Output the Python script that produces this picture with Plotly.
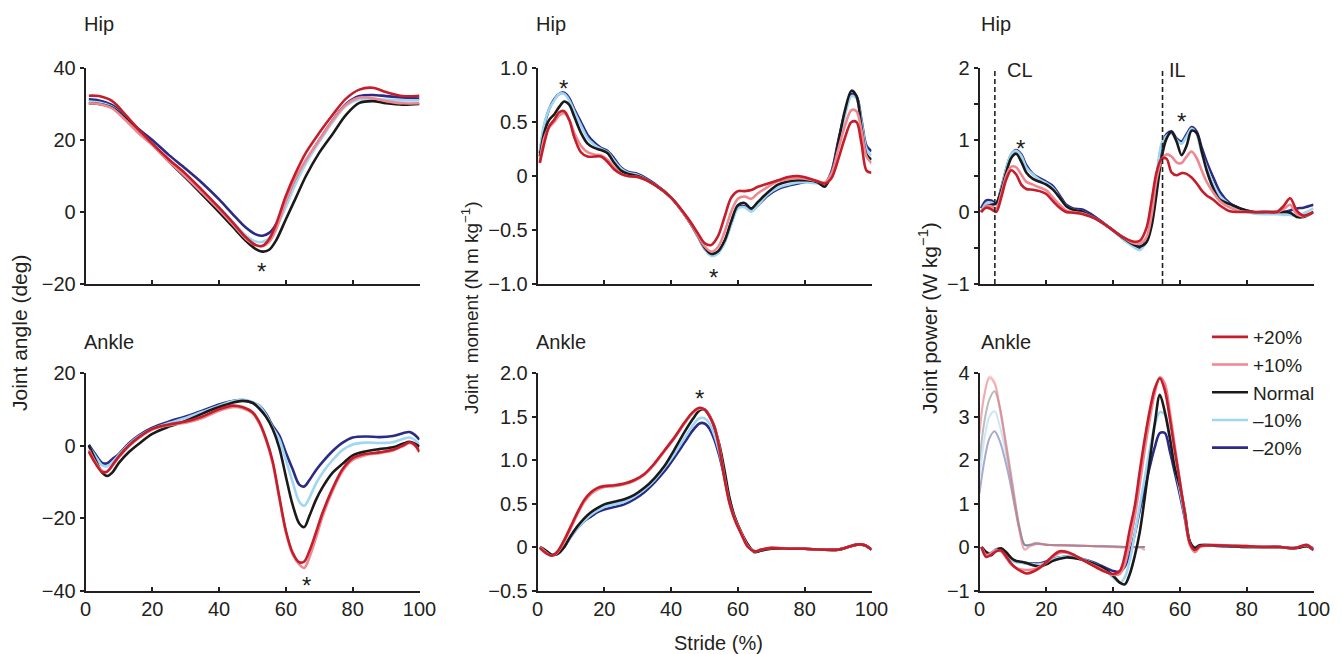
import plotly.graph_objects as go
from plotly.subplots import make_subplots

# ---------------- data ----------------
conditions = ["–20%", "–10%", "Normal", "+10%", "+20%"]
colors = ["#2B2B85", "#9FD6F2", "#1A1A1A", "#EF8790", "#C41E2A"]
ghost_colors = ["#2B2B85", "#7FC4EA", "#555555", "#EF8790", "#E0707A"]

# Hip angle (deg)
hip_ang_x = [1, 4, 8, 12, 16, 20, 25, 30, 35, 40, 44, 48, 51, 53, 55, 57, 60, 63, 66, 70, 74, 78, 82, 86, 90, 95, 100]
hip_ang = {
    "+20%": [32.3, 32.2, 30.8, 27.0, 22.8, 19.0, 14.6, 10.6, 6.0, 1.2, -2.8, -7.0, -9.2, -9.4, -7.5, -3.5, 4.5, 11.0, 16.5, 22.0, 27.0, 31.5, 34.0, 34.5, 33.3, 32.2, 32.3],
    "+10%": [30.2, 30.0, 28.8, 25.5, 21.8, 18.6, 14.0, 9.8, 5.3, 0.7, -3.3, -7.4, -9.2, -9.5, -8.3, -5.0, 3.0, 9.5, 14.5, 20.0, 25.5, 29.8, 31.8, 31.6, 30.8, 30.2, 30.2],
    "Normal": [30.2, 30.0, 29.0, 26.0, 22.2, 18.8, 14.0, 9.5, 4.8, 0.0, -4.0, -8.0, -10.3, -11.0, -10.5, -8.0, -2.0, 4.0, 10.0, 16.5, 21.7, 27.0, 30.3, 30.8, 30.2, 29.8, 30.0],
    "–10%": [30.6, 30.4, 29.2, 26.0, 22.2, 18.8, 14.2, 10.0, 5.7, 1.2, -2.6, -6.5, -8.2, -8.3, -7.2, -4.5, 1.5, 8.0, 13.5, 19.5, 25.0, 29.5, 31.3, 31.4, 31.2, 31.0, 31.0],
    "–20%": [31.3, 31.0, 29.7, 26.5, 23.0, 20.0, 15.8, 12.0, 8.0, 3.5, -0.5, -4.3, -6.2, -6.6, -5.8, -3.5, 2.5, 8.5, 14.0, 20.0, 25.5, 30.0, 32.2, 32.5, 32.2, 31.8, 31.5],
}

# Hip moment (N m kg-1)
hip_mom_x = [0.7, 2, 3.5, 5, 6.5, 8, 9.5, 11, 13, 15, 17, 19, 21, 23, 25, 27, 30, 35, 40, 45, 48, 50, 52, 54, 56, 58, 60, 62, 64, 66, 69, 72, 75, 78, 81, 84, 86, 88, 90, 92, 94, 95.5, 97, 98.5, 100]
hip_mom = {
    "+20%": [0.12, 0.30, 0.46, 0.52, 0.59, 0.60, 0.52, 0.36, 0.22, 0.18, 0.18, 0.18, 0.13, 0.06, 0.02, 0.0, -0.01, -0.08, -0.20, -0.39, -0.53, -0.62, -0.64, -0.56, -0.38, -0.20, -0.14, -0.14, -0.13, -0.10, -0.07, -0.04, -0.01, 0.0, -0.02, -0.05, -0.07, -0.02, 0.15, 0.35, 0.50, 0.50, 0.30, 0.05, 0.03],
    "+10%": [0.13, 0.35, 0.45, 0.50, 0.56, 0.58, 0.52, 0.40, 0.28, 0.22, 0.20, 0.19, 0.15, 0.08, 0.02, 0.0, -0.01, -0.08, -0.20, -0.40, -0.55, -0.65, -0.70, -0.66, -0.52, -0.33, -0.21, -0.19, -0.21, -0.16, -0.10, -0.05, -0.03, -0.02, -0.03, -0.05, -0.06, 0.02, 0.24, 0.46, 0.61, 0.60, 0.42, 0.18, 0.12],
    "Normal": [0.18, 0.40, 0.52, 0.57, 0.64, 0.69, 0.66, 0.55, 0.40, 0.30, 0.26, 0.24, 0.21, 0.12, 0.05, 0.02, 0.0, -0.08, -0.20, -0.40, -0.55, -0.66, -0.72, -0.70, -0.60, -0.42, -0.27, -0.25, -0.30, -0.24, -0.15, -0.08, -0.05, -0.04, -0.04, -0.06, -0.10, 0.02, 0.30, 0.60, 0.79, 0.74, 0.45, 0.20, 0.15],
    "–10%": [0.23, 0.48, 0.62, 0.70, 0.76, 0.76, 0.70, 0.60, 0.47, 0.35, 0.29, 0.25, 0.22, 0.14, 0.07, 0.03, 0.01, -0.08, -0.20, -0.40, -0.56, -0.67, -0.74, -0.72, -0.62, -0.45, -0.30, -0.29, -0.33, -0.27, -0.17, -0.11, -0.08, -0.06, -0.06, -0.07, -0.08, 0.02, 0.28, 0.55, 0.74, 0.72, 0.50, 0.25, 0.19],
    "–20%": [0.21, 0.46, 0.62, 0.71, 0.76, 0.77, 0.72, 0.62, 0.50, 0.38, 0.31, 0.26, 0.23, 0.16, 0.08, 0.04, 0.02, -0.07, -0.20, -0.40, -0.56, -0.67, -0.73, -0.71, -0.61, -0.44, -0.29, -0.28, -0.32, -0.27, -0.18, -0.12, -0.09, -0.07, -0.05, -0.06, -0.07, 0.04, 0.32, 0.58, 0.76, 0.74, 0.52, 0.28, 0.23],
}

# Hip power (W kg-1)
hip_pow_x = [0.5, 2, 3.5, 5, 6.5, 8, 9.5, 11, 12.5, 14, 16, 18, 20, 22, 24, 26, 28, 31, 35, 39, 43, 46, 48, 50, 51.5, 53, 54.5, 56, 57.5, 59, 60.5, 62, 63.5, 65, 66.5, 68, 70, 72, 75, 78, 82, 86, 89, 91, 93, 95, 97, 100]
hip_pow = {
    "+20%": [0.0, 0.06, 0.04, 0.0, 0.20, 0.45, 0.58, 0.52, 0.38, 0.32, 0.31, 0.29, 0.25, 0.15, 0.06, 0.0, -0.01, -0.03, -0.10, -0.22, -0.35, -0.41, -0.40, -0.22, 0.15, 0.55, 0.74, 0.74, 0.55, 0.51, 0.54, 0.53, 0.48, 0.40, 0.30, 0.23, 0.17, 0.09, 0.01, 0.0, 0.0, 0.0, 0.0, 0.08, 0.19, 0.02, -0.05, 0.0],
    "+10%": [0.0, 0.08, 0.08, 0.05, 0.25, 0.50, 0.63, 0.62, 0.52, 0.42, 0.38, 0.34, 0.30, 0.20, 0.10, 0.02, 0.0, -0.02, -0.10, -0.22, -0.35, -0.43, -0.44, -0.35, -0.05, 0.45, 0.72, 0.80, 0.77, 0.69, 0.68, 0.77, 0.84, 0.75, 0.58, 0.42, 0.27, 0.15, 0.06, 0.01, 0.0, 0.0, 0.0, 0.04, 0.10, -0.03, -0.06, 0.0],
    "Normal": [0.0, 0.08, 0.10, 0.12, 0.30, 0.55, 0.75, 0.81, 0.70, 0.55, 0.46, 0.42, 0.38, 0.31, 0.20, 0.08, 0.03, 0.0, -0.10, -0.22, -0.36, -0.45, -0.48, -0.42, -0.20, 0.25, 0.75, 1.02, 1.11, 0.98, 0.79, 0.92, 1.13, 1.10, 0.85, 0.58, 0.33, 0.17, 0.11, 0.05, 0.0, 0.0, 0.0, 0.0, -0.01, -0.07, -0.07, 0.0],
    "–10%": [0.0, 0.12, 0.13, 0.10, 0.32, 0.60, 0.80, 0.85, 0.78, 0.62, 0.52, 0.45, 0.40, 0.33, 0.20, 0.08, 0.03, 0.0, -0.10, -0.23, -0.38, -0.48, -0.53, -0.40, -0.05, 0.50, 0.95, 1.06, 1.09, 1.00, 0.95, 1.05, 1.16, 1.08, 0.82, 0.62, 0.38, 0.22, 0.10, 0.03, -0.02, -0.03, -0.03, -0.04, -0.04, -0.06, -0.02, 0.05],
    "–20%": [0.05, 0.16, 0.16, 0.12, 0.33, 0.60, 0.80, 0.86, 0.80, 0.65, 0.53, 0.47, 0.42, 0.36, 0.23, 0.10, 0.05, 0.03, -0.08, -0.22, -0.37, -0.46, -0.50, -0.38, -0.08, 0.45, 0.92, 1.08, 1.12, 1.02, 0.98, 1.08, 1.18, 1.12, 0.90, 0.70, 0.48, 0.28, 0.12, 0.05, 0.0, 0.0, 0.0, 0.0, 0.02, 0.05, 0.06, 0.10],
}

# Ankle angle (deg)
ank_ang_x = [1, 3, 5, 6.5, 8, 10, 13, 16, 20, 25, 30, 35, 40, 44, 47, 50, 52, 54, 56, 58, 60, 62, 64, 65.5, 67, 69, 71, 74, 77, 80, 84, 88, 92, 95, 97, 98.5, 100]
ank_ang = {
    "+20%": [-1.7, -5.0, -7.3, -7.2, -5.5, -3.0, 0.0, 2.3, 4.6, 5.8, 6.6, 8.0, 10.0, 11.0, 10.6, 9.2, 6.5, 2.0, -4.2, -14.0, -23.5, -29.5, -32.2, -32.0, -29.2, -24.0, -18.5, -11.8, -6.5, -3.5, -2.3, -1.9, -1.2, 0.0, 0.9, 0.3, -1.7],
    "+10%": [-1.2, -4.6, -7.0, -7.2, -5.6, -3.2, -0.2, 2.1, 4.4, 5.6, 6.3, 7.6, 9.6, 10.6, 10.3, 8.9, 6.2, 1.6, -4.8, -14.5, -24.0, -30.0, -32.8, -33.8, -31.0, -25.5, -19.5, -12.5, -7.0, -4.0, -2.6, -2.1, -1.4, -0.2, 0.7, 0.1, -1.9],
    "Normal": [0.0, -4.0, -7.5, -8.4, -7.5, -4.8, -1.8, 0.5, 3.2, 5.2, 6.8, 8.8, 10.6, 11.8, 12.3, 11.8, 10.2, 8.0, 4.6, -0.6, -8.6, -16.3, -21.5, -22.5, -19.5, -15.0, -11.5, -7.5, -5.0, -2.7, -1.6, -1.0, -0.5, 0.5, 1.0, 0.6, -0.3],
    "–10%": [-0.3, -3.0, -5.5, -5.7, -4.6, -2.6, 0.3, 2.5, 4.6, 6.2, 7.6, 9.3, 11.0, 12.2, 12.7, 12.0, 11.0, 8.5, 5.0, 1.8, -4.0, -10.0, -15.5, -16.6, -14.5, -10.5, -7.5, -4.0, -1.2, 0.3, 0.8, 0.7, 0.9, 1.8, 2.2, 1.6, 0.2],
    "–20%": [0.2, -2.5, -4.8, -4.9, -3.8, -2.3, 0.6, 2.8, 4.9, 6.6, 8.0, 9.6, 11.3, 12.3, 12.5, 11.8, 11.0, 8.8, 5.5, 2.8, -2.0, -6.5, -10.8, -11.3, -9.6, -6.8, -4.5, -1.5, 0.8, 2.2, 2.5, 2.3, 2.6, 3.4, 3.7, 3.0, 1.6],
}

# Ankle moment (N m kg-1)
ank_mom_x = [0.7, 2.5, 4.2, 6, 8, 10, 12, 14, 16, 18, 20, 23, 26, 29, 32, 35, 38, 41, 44, 46.5, 48.5, 50, 51.5, 53, 54.5, 56, 57.5, 59, 61, 63, 65, 67, 70, 75, 80, 85, 90, 93, 96, 98, 100]
ank_mom = {
    "+20%": [-0.01, -0.07, -0.10, -0.05, 0.08, 0.24, 0.40, 0.54, 0.63, 0.68, 0.70, 0.71, 0.73, 0.77, 0.84, 0.96, 1.11, 1.26, 1.43, 1.55, 1.60, 1.58, 1.50, 1.38, 1.12, 0.78, 0.50, 0.32, 0.15, 0.0, -0.05, -0.03, -0.01, -0.02, -0.02, -0.03, -0.03, 0.0, 0.03, 0.02, -0.03],
    "+10%": [0.0, -0.06, -0.10, -0.06, 0.06, 0.22, 0.38, 0.52, 0.61, 0.66, 0.69, 0.70, 0.72, 0.76, 0.83, 0.95, 1.10, 1.25, 1.42, 1.54, 1.59, 1.58, 1.51, 1.39, 1.14, 0.80, 0.51, 0.33, 0.16, 0.01, -0.05, -0.03, -0.01, -0.02, -0.02, -0.03, -0.03, 0.0, 0.03, 0.02, -0.03],
    "Normal": [0.0, -0.04, -0.09, -0.08, 0.0, 0.13, 0.24, 0.33, 0.40, 0.45, 0.49, 0.52, 0.55, 0.60, 0.68, 0.79, 0.93, 1.12, 1.32, 1.47, 1.57, 1.58, 1.51, 1.37, 1.17, 0.88, 0.56, 0.35, 0.17, 0.03, -0.06, -0.04, -0.02, -0.02, -0.02, -0.03, -0.03, 0.0, 0.03, 0.02, -0.03],
    "–10%": [0.0, -0.05, -0.09, -0.08, 0.0, 0.12, 0.22, 0.30, 0.37, 0.42, 0.46, 0.49, 0.52, 0.58, 0.66, 0.77, 0.91, 1.07, 1.25, 1.40, 1.48, 1.48, 1.42, 1.28, 1.08, 0.82, 0.54, 0.34, 0.16, 0.02, -0.05, -0.04, -0.02, -0.02, -0.02, -0.03, -0.03, 0.0, 0.03, 0.02, -0.03],
    "–20%": [0.0, -0.05, -0.09, -0.08, 0.0, 0.12, 0.22, 0.30, 0.35, 0.40, 0.43, 0.46, 0.49, 0.55, 0.63, 0.74, 0.87, 1.03, 1.20, 1.34, 1.42, 1.42, 1.36, 1.23, 1.04, 0.80, 0.55, 0.34, 0.16, 0.02, -0.05, -0.04, -0.02, -0.02, -0.02, -0.03, -0.03, 0.0, 0.03, 0.02, -0.03],
}

# Ankle power (W kg-1)
ank_pow_x = [0.6, 2, 3.5, 5, 6.5, 8, 9.5, 11, 12.5, 14, 16, 18, 20, 22, 24, 26, 28, 31, 34, 37, 40, 42, 43.5, 45, 46.5, 48, 49.5, 51, 52.5, 54, 55.5, 57, 58.5, 60, 61.5, 63, 64.5, 66, 70, 75, 80, 85, 90, 94, 96, 98, 100]
ank_pow = {
    "+20%": [0.0, -0.23, -0.18, -0.10, -0.08, -0.22, -0.38, -0.49, -0.56, -0.61, -0.57, -0.48, -0.35, -0.20, -0.10, -0.11, -0.17, -0.30, -0.43, -0.55, -0.62, -0.55, -0.20, 0.40, 0.95, 1.75, 2.50, 3.15, 3.65, 3.88, 3.60, 2.95, 2.20, 1.50, 0.75, 0.08, -0.07, 0.02, 0.04, 0.03, 0.02, 0.0, 0.0, -0.03, 0.01, 0.05, -0.07],
    "+10%": [0.0, -0.18, -0.15, -0.08, -0.10, -0.25, -0.40, -0.48, -0.52, -0.53, -0.52, -0.46, -0.36, -0.23, -0.13, -0.13, -0.18, -0.30, -0.42, -0.53, -0.64, -0.62, -0.40, 0.10, 0.70, 1.45, 2.25, 2.95, 3.55, 3.90, 3.75, 3.10, 2.30, 1.50, 0.75, 0.05, -0.12, 0.0, 0.05, 0.03, 0.02, 0.0, 0.0, -0.03, 0.01, 0.04, -0.06],
    "Normal": [0.0, -0.12, -0.19, -0.08, -0.03, -0.12, -0.25, -0.32, -0.34, -0.37, -0.42, -0.45, -0.40, -0.32, -0.27, -0.24, -0.25, -0.30, -0.38, -0.48, -0.66, -0.82, -0.86, -0.62, -0.20, 0.35, 1.15, 2.00, 2.85, 3.50, 3.10, 2.50, 1.80, 1.39, 0.80, 0.12, -0.02, 0.04, 0.04, 0.02, 0.0, 0.0, 0.0, -0.03, -0.01, 0.02, -0.07],
    "–10%": [0.0, -0.15, -0.15, -0.06, -0.08, -0.20, -0.30, -0.35, -0.36, -0.38, -0.40, -0.40, -0.36, -0.28, -0.24, -0.22, -0.23, -0.28, -0.37, -0.50, -0.70, -0.82, -0.70, -0.30, 0.30, 0.95, 1.60, 2.25, 2.80, 3.10, 3.05, 2.50, 1.85, 1.30, 0.70, 0.10, 0.0, 0.05, 0.04, 0.02, 0.0, 0.0, 0.0, -0.02, 0.0, 0.02, -0.03],
    "–20%": [0.0, -0.12, -0.14, -0.05, -0.05, -0.18, -0.28, -0.33, -0.35, -0.37, -0.38, -0.38, -0.33, -0.27, -0.24, -0.22, -0.24, -0.28, -0.35, -0.45, -0.55, -0.57, -0.45, -0.15, 0.30, 0.85, 1.35, 1.85, 2.30, 2.62, 2.62, 2.20, 1.70, 1.20, 0.65, 0.10, -0.02, 0.04, 0.03, 0.01, 0.0, 0.0, 0.0, -0.02, 0.0, 0.02, -0.03],
}

# Faded early-stride ankle power traces (drawn without legend)
ghost_x = [0, 1.5, 3, 4.5, 6, 7.5, 9, 10.5, 12, 13.5, 15, 17, 20, 25, 30, 35, 40, 45, 48, 49.5]
ghost_pow = {
    "+20%": [2.6, 3.5, 3.88, 3.75, 3.2, 2.5, 1.75, 1.0, 0.35, -0.05, 0.02, 0.07, 0.05, 0.04, 0.03, 0.02, 0.0, -0.02, -0.02, -0.07],
    "+10%": [2.62, 3.55, 3.92, 3.8, 3.25, 2.55, 1.8, 1.05, 0.38, -0.07, 0.0, 0.07, 0.05, 0.04, 0.03, 0.02, 0.0, -0.02, 0.0, -0.07],
    "Normal": [2.0, 2.9, 3.4, 3.58, 3.25, 2.6, 1.9, 1.15, 0.45, 0.05, 0.05, 0.1, 0.05, 0.04, 0.03, 0.02, 0.01, 0.0, 0.0, 0.0],
    "–10%": [1.62, 2.5, 3.0, 3.12, 2.8, 2.3, 1.7, 1.05, 0.45, 0.05, 0.05, 0.08, 0.05, 0.04, 0.03, 0.02, 0.01, 0.0, 0.0, 0.0],
    "–20%": [1.23, 2.0, 2.5, 2.66, 2.45, 2.05, 1.55, 0.95, 0.4, 0.05, 0.04, 0.07, 0.05, 0.04, 0.03, 0.02, 0.01, 0.0, 0.0, 0.0],
}

# Significance markers (x, y) per panel
stars = {
    1: [(52.8, -15.2)],
    2: [(7.7, 0.86), (52.6, -0.895)],
    3: [(12.3, 0.95), (60.5, 1.32)],
    4: [(66.2, -37.2)],
    5: [(48.4, 1.77)],
    6: [(54.5, 4.18)],
}

# Gait events for hip power
event_x = [4.6, 54.8]
event_labels = ["CL", "IL"]
event_label_x = [7.6, 56.1]

# Axis ticks
x_ticks = [0, 20, 40, 60, 80, 100]
y_ticks = {
    1: ([-20, 0, 20, 40], ["−20", "0", "20", "40"]),
    2: ([-1, -0.5, 0, 0.5, 1], ["−1.0", "−0.5", "0", "0.5", "1.0"]),
    3: ([-1, 0, 1, 2], ["−1", "0", "1", "2"]),
    4: ([-40, -20, 0, 20], ["−40", "−20", "0", "20"]),
    5: ([-0.5, 0, 0.5, 1, 1.5, 2], ["−0.5", "0", "0.5", "1.0", "1.5", "2.0"]),
    6: ([-1, 0, 1, 2, 3, 4], ["−1", "0", "1", "2", "3", "4"]),
}
hip_pow_minor_ticks = [-0.5, 0.5, 1.5]
y_ranges = {1: [-20, 40], 2: [-1, 1], 3: [-1, 2], 4: [-40, 20], 5: [-0.5, 2], 6: [-1, 4]}
row_titles = ["Hip", "Ankle"]
y_titles = ["Joint angle (deg)", "Joint  moment (N m kg<sup>−1</sup>)", "Joint power (W kg<sup>−1</sup>)"]

# ---------------- figure ----------------
W, H = 1342, 654
FONT = "Liberation Sans, Arial, Helvetica, sans-serif"
TXT = "#231F20"

fig = make_subplots(rows=2, cols=3)

panels = [
    (1, 1, hip_ang_x, hip_ang),
    (1, 2, hip_mom_x, hip_mom),
    (1, 3, hip_pow_x, hip_pow),
    (2, 1, ank_ang_x, ank_ang),
    (2, 2, ank_mom_x, ank_mom),
    (2, 3, ank_pow_x, ank_pow),
]

# ghost traces first (beneath)
for name, gc in zip(conditions, ghost_colors):
    fig.add_trace(go.Scatter(x=ghost_x, y=ghost_pow[name], mode="lines",
                             line=dict(color=gc, width=2, shape="spline"),
                             opacity=0.4, showlegend=False, hoverinfo="skip"),
                  row=2, col=3)

for r, c, xs, data in panels:
    for name, col in zip(conditions, colors):
        fig.add_trace(go.Scatter(x=xs, y=data[name], mode="lines", name=name,
                                 legendgroup=name,
                                 line=dict(color=col, width=2.6, shape="spline", smoothing=0.9),
                                 showlegend=(r == 2 and c == 3), cliponaxis=True),
                      row=r, col=c)

col_px = [(85.5, 419.5), (537.5, 871.5), (979.5, 1313.5)]
row_px = [(68, 284), (373, 590.5)]

layout = {}
for r in range(2):
    for c in range(3):
        k = r * 3 + c + 1
        sfx = "" if k == 1 else str(k)
        x0, x1 = col_px[c]
        y0, y1 = row_px[r]
        layout["xaxis" + sfx] = dict(
            domain=[x0 / W, x1 / W], range=[0, 100], tickvals=x_ticks, automargin=False,
            showticklabels=(r == 1), ticks="inside", ticklen=4, tickwidth=1.5,
            tickcolor=TXT, showline=True, linecolor=TXT, linewidth=1.6,
            showgrid=False, zeroline=False, tickfont=dict(size=20, color=TXT, family=FONT))
        tv, tt = y_ticks[k]
        yax = dict(
            domain=[1 - y1 / H, 1 - y0 / H], range=y_ranges[k], tickvals=tv, ticktext=tt,
            automargin=False,
            ticks="outside", ticklen=4, tickwidth=1.5, tickcolor=TXT,
            showline=True, linecolor=TXT, linewidth=1.6, showgrid=False, zeroline=False,
            tickfont=dict(size=20, color=TXT, family=FONT))
        if k == 3:
            yax["minor"] = dict(tickvals=hip_pow_minor_ticks, ticks="outside", ticklen=4,
                                tickwidth=1.5, tickcolor=TXT, showgrid=False)
        layout["yaxis" + sfx] = yax

fig.update_layout(**layout)

annotations = []
# panel titles
title_x = [82, 534, 979]
title_y = [24, 342]
for r in range(2):
    for c in range(3):
        annotations.append(dict(xref="paper", yref="paper", x=title_x[c] / W, y=1 - title_y[r] / H,
                                text=row_titles[r], showarrow=False, xanchor="left", yanchor="middle",
                                font=dict(size=20, color=TXT, family=FONT)))
# y titles
ytitle_pos = [(20, 333, 21), (470, 308, 19), (928, 318, 21)]
for (px, py, fs), t in zip(ytitle_pos, y_titles):
    annotations.append(dict(xref="paper", yref="paper", x=px / W, y=1 - py / H, text=t,
                            textangle=-90, showarrow=False, xanchor="center", yanchor="middle",
                            font=dict(size=fs, color=TXT, family=FONT)))
# x title
annotations.append(dict(xref="paper", yref="paper", x=718 / W, y=1 - 643 / H, text="Stride (%)",
                        showarrow=False, xanchor="center", yanchor="middle",
                        font=dict(size=20, color=TXT, family=FONT)))
# stars
for k, pts in stars.items():
    sfx = "" if k == 1 else str(k)
    for sx, sy in pts:
        annotations.append(dict(xref="x" + sfx, yref="y" + sfx, x=sx, y=sy, text="*",
                                showarrow=False, xanchor="center", yanchor="middle", yshift=-5,
                                font=dict(size=24, color=TXT, family=FONT)))
# CL / IL
for lx, lab in zip(event_label_x, event_labels):
    annotations.append(dict(xref="x3", yref="y3", x=lx, y=1.97, text=lab, showarrow=False,
                            xanchor="left", yanchor="middle",
                            font=dict(size=20, color=TXT, family=FONT)))

shapes = []
for ex in event_x:
    shapes.append(dict(type="line", xref="x3", yref="y3 domain", x0=ex, x1=ex, y0=0, y1=1,
                       line=dict(color=TXT, width=1.6, dash="5px,3px")))

fig.update_layout(
    width=W, height=H, margin=dict(l=0, r=0, t=0, b=0, pad=0, autoexpand=False),
    paper_bgcolor="white", plot_bgcolor="white",
    font=dict(family=FONT, color=TXT, size=20),
    annotations=annotations, shapes=shapes,
    showlegend=True,
    legend=dict(x=1207 / W, y=1 - 318 / H, xanchor="left", yanchor="top",
                traceorder="reversed", bgcolor="rgba(0,0,0,0)",
                font=dict(size=19, color=TXT, family=FONT), itemwidth=36,
                tracegroupgap=0),
)

fig.write_html(
    "out.html",
    config={"displayModeBar": False},
    post_script="document.body.style.margin='0';document.body.style.overflow='hidden';",
)
